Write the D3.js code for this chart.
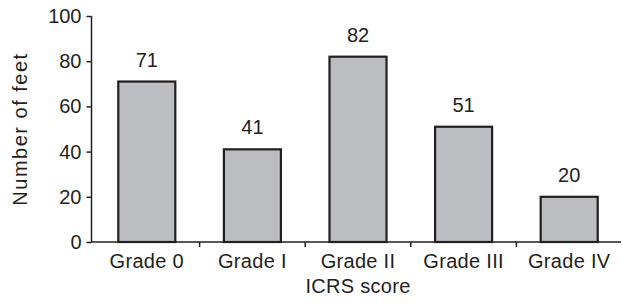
<!DOCTYPE html>
<html>
<head>
<meta charset="utf-8">
<script src="https://cdn.jsdelivr.net/npm/d3@7"></script>
<style>
  body { margin: 0; background: #fff; }
  text { font-family: "Liberation Sans", Arial, sans-serif; fill: #231f20; }
</style>
</head>
<body>
<div id="chart"></div>
<script>
const grades = ['Grade 0', 'Grade I', 'Grade II', 'Grade III', 'Grade IV'];
const feet = [71, 41, 82, 51, 20];
const yTicks = [0, 20, 40, 60, 80, 100];

const width = 623;
const height = 303;
const ink = '#231f20';
const fontSize = '20px';

const svg = d3.select('#chart').append('svg')
    .attr('width', width)
    .attr('height', height);

const x = d3.scaleBand()
    .domain(grades)
    .range([94, 622])
    .paddingInner(0.46)
    .paddingOuter(0.23);

const y = d3.scaleLinear()
    .domain([0, 100])
    .range([242, 16]);

// bars
svg.selectAll('rect.bar')
    .data(grades)
    .enter().append('rect')
    .attr('class', 'bar')
    .attr('x', d => x(d))
    .attr('y', (d, i) => y(feet[i]))
    .attr('width', x.bandwidth())
    .attr('height', (d, i) => y(0) - y(feet[i]))
    .attr('fill', '#bcbdc0')
    .attr('stroke', ink)
    .attr('stroke-width', 2.2);

// value labels
svg.selectAll('text.val')
    .data(grades)
    .enter().append('text')
    .attr('class', 'val')
    .attr('x', d => x(d) + x.bandwidth() / 2)
    .attr('y', (d, i) => y(feet[i]) - 15)
    .attr('text-anchor', 'middle')
    .style('font-size', fontSize)
    .text((d, i) => feet[i]);

// y axis
const yAxis = svg.append('g')
    .attr('transform', 'translate(91.5,0)')
    .call(d3.axisLeft(y).tickValues(yTicks).tickSize(5).tickPadding(5));
yAxis.select('.domain').attr('stroke', ink).attr('stroke-width', 1.5).attr('d', 'M0,16V242');
yAxis.selectAll('.tick line').attr('stroke', ink).attr('stroke-width', 1.5);
yAxis.selectAll('.tick text').style('font-size', fontSize).attr('fill', ink);

// x axis with ticks at band boundaries
const xAxis = svg.append('g').attr('transform', 'translate(0,242)');
xAxis.append('line')
    .attr('x1', 91).attr('x2', 621)
    .attr('stroke', ink).attr('stroke-width', 1.5);
const step = x.step();
xAxis.selectAll('line.tk')
    .data(grades.slice(1))
    .enter().append('line')
    .attr('class', 'tk')
    .attr('x1', d => x(d) - (step - x.bandwidth()) / 2)
    .attr('x2', d => x(d) - (step - x.bandwidth()) / 2)
    .attr('y1', 0).attr('y2', 5)
    .attr('stroke', ink).attr('stroke-width', 1.5);
xAxis.selectAll('text.xl')
    .data(grades)
    .enter().append('text')
    .attr('class', 'xl')
    .attr('x', d => x(d) + x.bandwidth() / 2)
    .attr('y', 26)
    .attr('text-anchor', 'middle')
    .style('font-size', fontSize)
    .style('letter-spacing', '0.3px')
    .text(d => d);

// axis titles
svg.append('text')
    .attr('x', x.range()[0] + (x.range()[1] - x.range()[0]) / 2)
    .attr('y', 293)
    .attr('text-anchor', 'middle')
    .style('font-size', fontSize)
    .style('letter-spacing', '0.3px')
    .text('ICRS score');

svg.append('text')
    .attr('transform', 'translate(27,129) rotate(-90)')
    .attr('text-anchor', 'middle')
    .style('font-size', fontSize)
    .style('letter-spacing', '1.5px')
    .text('Number of feet');
</script>
</body>
</html>
